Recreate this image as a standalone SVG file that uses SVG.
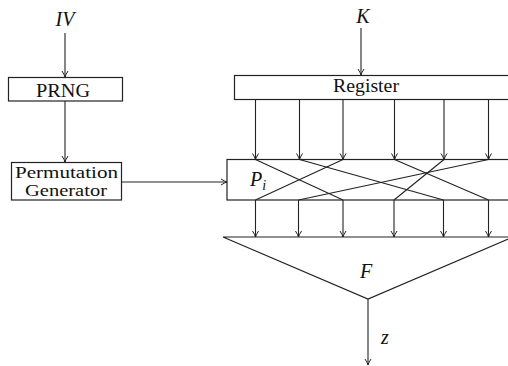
<svg xmlns="http://www.w3.org/2000/svg" width="508" height="366" viewBox="0 0 508 366">
  <style>
    .box { fill: #fff; stroke: #222; stroke-width: 1.2; }
    .wire { fill: none; stroke: #222; stroke-width: 1.1; }
    .lbl { font-family: "Liberation Serif", "DejaVu Serif", serif; font-size: 18px; fill: #111; text-anchor: middle; }
    .small { font-size: 16px; }
    .math { font-family: "Liberation Serif", "DejaVu Serif", serif; font-style: italic; font-size: 20px; fill: #111; }
  </style>
  <defs>
    <marker id="arr" markerUnits="userSpaceOnUse" markerWidth="8" markerHeight="8" viewBox="-7 -4 8 8" refX="0" refY="0" orient="auto">
      <path d="M-6,-3 Q-2,-0.5 0,0 Q-2,0.5 -6,3" fill="none" stroke="#222" stroke-width="1"/>
    </marker>
  </defs>

  <!-- inputs -->
  <g id="iv">
    <text class="math" x="65" y="26" text-anchor="middle">IV</text>
  </g>
  <g id="k">
    <text class="math" x="363" y="22.5" text-anchor="middle">K</text>
  </g>

  <!-- left chain -->
  <g id="prng">
    <rect class="box" x="8.5" y="77.5" width="114" height="23.5"/>
    <text class="lbl" x="63" y="96.5" textLength="54" lengthAdjust="spacingAndGlyphs">PRNG</text>
  </g>
  <g id="permgen">
    <rect class="box" x="11.5" y="162.5" width="110" height="37.5"/>
    <text class="lbl small" x="66.5" y="177.5" textLength="103" lengthAdjust="spacingAndGlyphs">Permutation</text>
    <text class="lbl small" x="66" y="195.5" textLength="82" lengthAdjust="spacingAndGlyphs">Generator</text>
  </g>

  <!-- right chain -->
  <g id="register">
    <rect class="box" x="234.5" y="75.5" width="290" height="24"/>
    <text class="lbl" x="366" y="92" textLength="66" lengthAdjust="spacingAndGlyphs">Register</text>
  </g>
  <g id="perm">
    <rect class="box" x="227" y="159.5" width="300" height="40.5"/>
    <text class="math" x="250" y="186">P<tspan font-size="14" dy="4">i</tspan></text>
  </g>
  <g id="f">
    <path class="box" d="M223,237 L513,237 L368,299 Z"/>
    <text class="math" x="366" y="278" text-anchor="middle">F</text>
  </g>
  <g id="zlabel">
    <text class="math" x="385" y="344" text-anchor="middle">z</text>
  </g>

  <!-- connectors -->
  <g id="connectors">
    <line class="wire" x1="65" y1="33" x2="65" y2="77" marker-end="url(#arr)"/>
    <line class="wire" x1="65" y1="101" x2="65" y2="162" marker-end="url(#arr)"/>
    <line class="wire" x1="121.5" y1="182" x2="227" y2="182" marker-end="url(#arr)"/>
    <line class="wire" x1="361" y1="28" x2="361" y2="75" marker-end="url(#arr)"/>

    <!-- register to permutation -->
    <line class="wire" x1="255.5" y1="100" x2="255.5" y2="159.5" marker-end="url(#arr)"/>
    <line class="wire" x1="299.5" y1="100" x2="299.5" y2="159.5" marker-end="url(#arr)"/>
    <line class="wire" x1="343" y1="100" x2="343" y2="159.5" marker-end="url(#arr)"/>
    <line class="wire" x1="394.5" y1="100" x2="394.5" y2="159.5" marker-end="url(#arr)"/>
    <line class="wire" x1="444" y1="100" x2="444" y2="159.5" marker-end="url(#arr)"/>
    <line class="wire" x1="488.5" y1="100" x2="488.5" y2="159.5" marker-end="url(#arr)"/>

    <!-- permutation wiring -->
    <line class="wire" x1="255.5" y1="159.5" x2="343" y2="200"/>
    <line class="wire" x1="299.5" y1="159.5" x2="443.5" y2="200"/>
    <line class="wire" x1="343" y1="159.5" x2="255.5" y2="200"/>
    <line class="wire" x1="394.5" y1="159.5" x2="488.5" y2="200"/>
    <line class="wire" x1="444" y1="159.5" x2="394" y2="200"/>
    <line class="wire" x1="488.5" y1="159.5" x2="298.5" y2="200"/>

    <!-- permutation to F -->
    <line class="wire" x1="255.5" y1="200" x2="255.5" y2="237" marker-end="url(#arr)"/>
    <line class="wire" x1="298.5" y1="200" x2="298.5" y2="237" marker-end="url(#arr)"/>
    <line class="wire" x1="343" y1="200" x2="343" y2="237" marker-end="url(#arr)"/>
    <line class="wire" x1="394" y1="200" x2="394" y2="237" marker-end="url(#arr)"/>
    <line class="wire" x1="443.5" y1="200" x2="443.5" y2="237" marker-end="url(#arr)"/>
    <line class="wire" x1="488.5" y1="200" x2="488.5" y2="237" marker-end="url(#arr)"/>

    <line class="wire" x1="368" y1="299" x2="368" y2="365" marker-end="url(#arr)"/>
  </g>
</svg>
